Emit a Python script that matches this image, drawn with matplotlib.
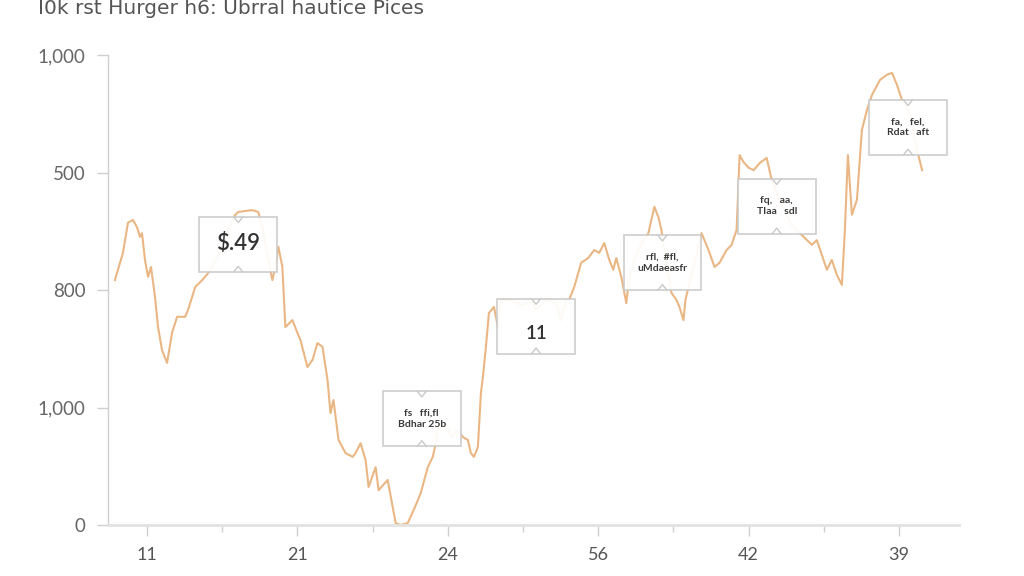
import matplotlib
matplotlib.use("Agg")
import matplotlib.pyplot as plt
from matplotlib.patches import Rectangle
from matplotlib.ticker import FixedLocator

plt.rcParams['font.family'] = ['Lato', 'DejaVu Sans']

title = "I0k rst Hurger h6: Ubrral hautice Pices"

x_ticks = [0, 150, 300, 450, 600, 750]
x_tick_labels = ["11", "21", "24", "56", "42", "39"]
y_ticks = [0, 250, 500, 750, 1000]
y_tick_labels = ["0", "1,000", "800", "500", "1,000"]

days = [-32, -24, -19, -14, -10, -7, -5, -2, 1, 4, 8, 11, 15, 20, 25, 30, 38, 41, 48, 55,
        61, 68, 75, 83, 88, 91, 105, 111, 115, 121, 125, 128, 131, 135, 138, 145, 150, 153,
        160, 165, 170, 175, 180, 183, 186, 191, 198, 205, 208, 213, 218, 221, 228, 231, 240,
        245, 248, 253, 260, 266, 273, 280, 285, 288, 291, 293, 300, 303, 310, 315, 320, 323,
        326, 330, 333, 335, 338, 341, 346, 350, 353, 363, 373, 383, 388, 398, 408, 413, 418,
        421, 426, 433, 440, 446, 451, 456, 461, 465, 468, 473, 478, 481, 488, 495, 500, 503,
        506, 510, 513, 518, 523, 528, 531, 535, 537, 543, 548, 553, 560, 566, 571, 578, 583,
        588, 591, 595, 600, 605, 611, 618, 623, 633, 643, 653, 663, 668, 673, 678, 683, 688,
        693, 696, 699, 703, 708, 713, 718, 723, 731, 738, 743, 748, 753, 758, 763, 768, 773]
prices = [521, 579, 643, 649, 634, 613, 621, 564, 528, 549, 485, 421, 372, 345, 409, 443, 443,
          458, 506, 521, 536, 560, 596, 638, 660, 666, 670, 666, 634, 564, 521, 549, 592, 549,
          421, 436, 409, 394, 336, 351, 387, 379, 309, 238, 266, 181, 153, 145, 153, 174, 138,
          81, 123, 74, 96, 38, 4, 0, 4, 32, 68, 123, 145, 174, 217, 209, 209, 187, 202, 187,
          181, 153, 145, 166, 281, 315, 379, 451, 464, 421, 479, 479, 468, 475, 458, 479, 472,
          436, 479, 479, 506, 558, 568, 585, 579, 600, 564, 543, 568, 528, 472, 528, 575, 606,
          621, 649, 677, 655, 628, 553, 494, 479, 464, 436, 479, 532, 575, 621, 585, 549, 558,
          585, 596, 628, 787, 772, 760, 755, 770, 781, 734, 681, 638, 617, 596, 606, 575, 543,
          564, 532, 511, 628, 787, 660, 692, 841, 883, 915, 947, 958, 962, 936, 904, 887, 851,
          798, 755]

callout_x = [91, 274, 388, 514, 628, 759]
callout_y = [597, 226, 423, 558, 678, 846]
callout_text = ["$.49", "fs   ffi,fl\nBdhar 25b", "11", "rfl,  #fl,\nuMdaeasfr",
                "fq,   aa,\nTIaa   sdl", "fa,   fel,\nRdat   aft"]

fig = plt.figure(figsize=(10.24, 5.76), dpi=100)
ax = fig.add_axes([108 / 1024, 1 - 525 / 576, (959 - 108) / 1024, (525 - 55) / 576])
ax.set_xlim(-38.9, 809.8)
ax.set_ylim(0, 1000)

ax.plot(days, prices, color="#eab784", lw=1.5, solid_joinstyle="round", zorder=2)

bw, bh = 77.5, 117.0
for cx, cy, t in zip(callout_x, callout_y, callout_text):
    r = Rectangle((cx - bw / 2, cy - bh / 2), bw, bh, facecolor="white",
                  edgecolor="#c9c9c9", lw=1.2, zorder=3, alpha=0.93)
    ax.add_patch(r)
    nw, nh = 4.5, 12
    ax.plot([cx - nw, cx, cx + nw], [cy + bh / 2, cy + bh / 2 - nh, cy + bh / 2],
            color="#c9c9c9", lw=1.0, zorder=4)
    ax.plot([cx - nw, cx, cx + nw], [cy - bh / 2, cy - bh / 2 + nh, cy - bh / 2],
            color="#c9c9c9", lw=1.0, zorder=4)
    if "\n" in t:
        ax.text(cx, cy, t, ha="center", va="center", fontsize=7.5, fontweight="bold",
                color="#3a3a3a", zorder=5, linespacing=1.3)
    elif t.startswith("$"):
        ax.text(cx, cy + 3, t, ha="center", va="center", fontsize=16,
                fontweight="semibold", color="#333333", zorder=5)
    else:
        ax.text(cx, cy - 15, t, ha="center", va="center", fontsize=13.5,
                fontweight="semibold", color="#333333", zorder=5)

for s in ["top", "right"]:
    ax.spines[s].set_visible(False)
ax.spines["left"].set_color("#cfcfcf")
ax.spines["bottom"].set_color("#e2e2e2")
ax.spines["bottom"].set_linewidth(2.0)
ax.spines["left"].set_linewidth(1.0)

ax.set_xticks(x_ticks)
ax.set_xticklabels(x_tick_labels)
ax.xaxis.set_minor_locator(FixedLocator([75, 225, 375, 525, 675]))
ax.set_yticks(y_ticks)
ax.set_yticklabels(y_tick_labels)
ax.tick_params(axis="x", which="major", length=8, width=1, color="#cfcfcf",
               labelsize=13, labelcolor="#555555", pad=8)
ax.tick_params(axis="x", which="minor", length=5, width=1, color="#cfcfcf")
ax.tick_params(axis="y", length=8, width=1, color="#cfcfcf", labelsize=13.5,
               labelcolor="#666666", pad=8)

fig.text(38 / 1024, 1 - 9 / 576, title, ha="left", va="center", fontsize=14.5,
         color="#555555", family=["DejaVu Sans"])

fig.savefig("out.png", dpi=100, facecolor="white")
